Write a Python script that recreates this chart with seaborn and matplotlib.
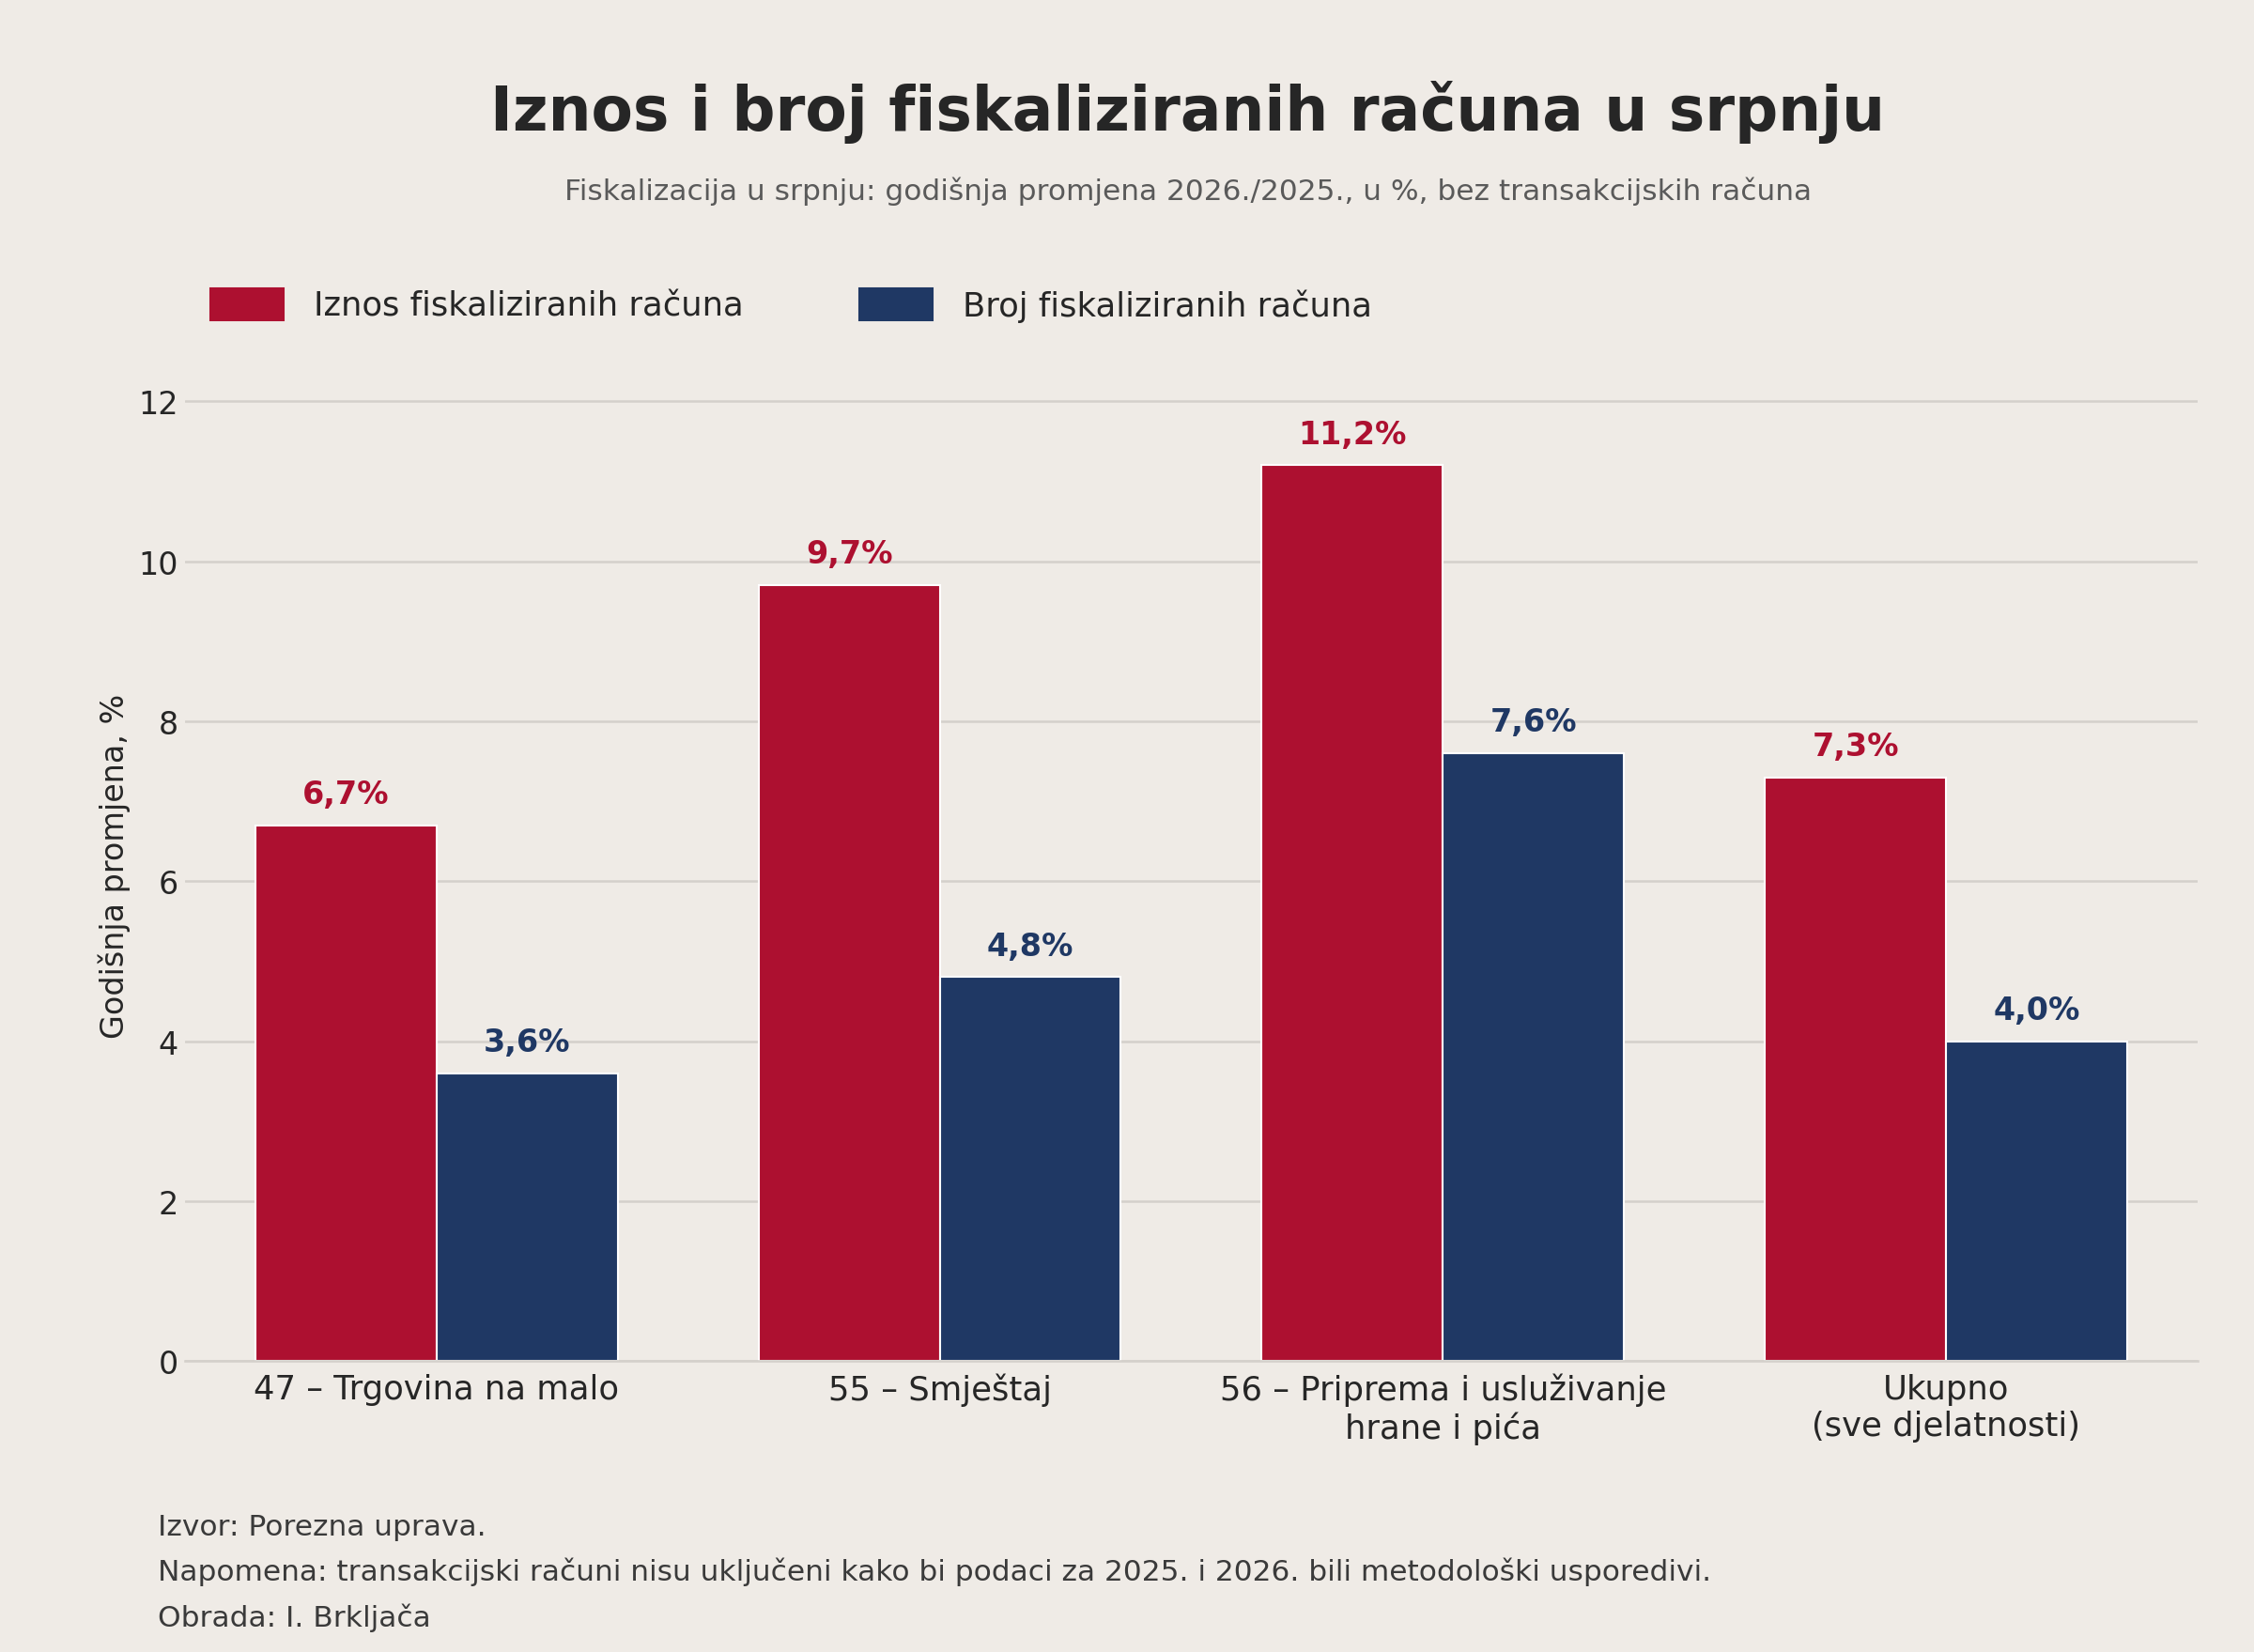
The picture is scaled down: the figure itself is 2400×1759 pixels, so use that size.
import pandas as pd
import matplotlib.pyplot as plt
import seaborn as sns

kategorije = ['47 – Trgovina na malo', '55 – Smještaj',
              '56 – Priprema i usluživanje\nhrane i pića', 'Ukupno\n(sve djelatnosti)']
iznos = [6.7, 9.7, 11.2, 7.3]
broj = [3.6, 4.8, 7.6, 4.0]
serije = ['Iznos fiskaliziranih računa', 'Broj fiskaliziranih računa']
boje = ['#ad1030', '#1f3864']
bg = '#efebe6'

df = pd.DataFrame({
    'kat': kategorije * 2,
    'serija': [serije[0]] * 4 + [serije[1]] * 4,
    'val': iznos + broj,
})

sns.set_theme(style='whitegrid')
plt.rcParams['font.family'] = ['DejaVu Sans']

fig = plt.figure(figsize=(16, 11.733), dpi=150, facecolor=bg)
ax = fig.add_axes([0.082, 0.176, 0.893, 0.6])
ax.set_facecolor(bg)
sns.barplot(data=df, x='kat', y='val', hue='serija', palette=boje, width=0.72,
            saturation=1, ax=ax, legend=False)

for cont, c in zip(ax.containers, boje):
    ax.bar_label(cont, labels=[f'{v:.1f}%'.replace('.', ',') for v in cont.datavalues],
                 padding=8, color=c, fontsize=16, fontweight='bold')

ax.set_ylim(0, 12.4)
ax.set_yticks([0, 2, 4, 6, 8, 10, 12])
ax.grid(axis='y', color='#d4d0cb', linewidth=1.2)
ax.grid(axis='x', visible=False)
for s in ['top', 'right', 'left']:
    ax.spines[s].set_visible(False)
ax.spines['bottom'].set_color('#d4d0cb')
ax.tick_params(axis='x', labelsize=17, length=0, pad=6)
ax.tick_params(axis='y', labelsize=16, length=0)
ax.set_xlabel('')
ax.set_ylabel('Godišnja promjena, %', fontsize=16)

fig.text(0.527, 0.932, 'Iznos i broj fiskaliziranih računa u srpnju',
         ha='center', va='center', fontsize=31, fontweight='bold')
fig.text(0.527, 0.884, 'Fiskalizacija u srpnju: godišnja promjena 2026./2025., u %, bez transakcijskih računa',
         ha='center', va='center', fontsize=15, color='#5a5a5a')

handles = [plt.Rectangle((0, 0), 1, 1, color=c) for c in boje]
fig.legend(handles, serije, loc='center left', bbox_to_anchor=(0.08, 0.815), ncol=2,
           frameon=False, fontsize=17, handlelength=2.2, handleheight=1.1,
           columnspacing=3.5, handletextpad=0.9)

fig.text(0.07, 0.076, 'Izvor: Porezna uprava.', fontsize=15, color='#3a3a3a', va='center')
fig.text(0.07, 0.049, 'Napomena: transakcijski računi nisu uključeni kako bi podaci za 2025. i 2026. bili metodološki usporedivi.',
         fontsize=15, color='#3a3a3a', va='center')
fig.text(0.07, 0.021, 'Obrada: I. Brkljača', fontsize=15, color='#3a3a3a', va='center')

fig.savefig('out.png', dpi=150, facecolor=bg)
